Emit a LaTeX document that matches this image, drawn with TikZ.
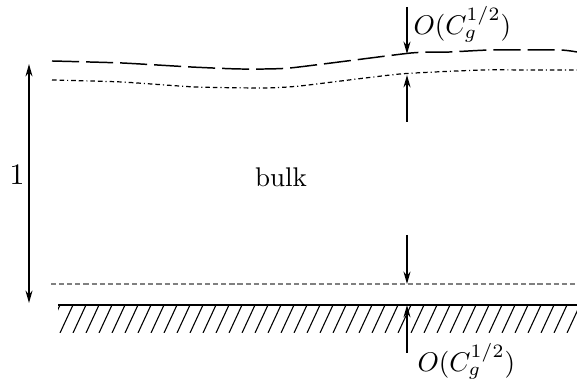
\documentclass[tikz,border=0pt]{standalone}
\usepackage{tikz}
\usetikzlibrary{arrows.meta,positioning,calc}

\begin{document}
\begin{tikzpicture}[
        x=0.37pt, y=-0.37pt,
        dim/.style={line width=0.6pt, -{Stealth[length=4.6pt,width=2.6pt]}},
        surface/.style={line width=0.55pt, dash pattern=on 10pt off 2.6pt},
        edge/.style={line width=0.45pt, dash pattern=on 1.7pt off 1.1pt on 1.7pt off 1.1pt on 0.4pt off 1.1pt},
        sublayer/.style={gray, line width=0.4pt, dash pattern=on 1.9pt off 1.1pt},
        wall/.style={line width=0.7pt},
        lbl/.style={inner sep=0pt}
    ]
    \useasboundingbox (0,0) rectangle (577,386);

    % Free surface and edge of the top layer
    \draw[surface] plot[smooth, tension=0.3] coordinates {(52,61) (122,63) (191,67) (240,69) (290,68) (411,53) (450,52) (490,50) (560,50) (577,52)};
    \draw[edge] plot[smooth, tension=0.3] coordinates {(52,80) (122,82) (195,87) (265,88) (300,86) (400,74) (482,70) (530,70) (577,70)};

    % Wall and bottom layer
    \draw[sublayer] (51,284) -- (577,284);
    \draw[wall] (58,305) -- (577,305);
    \begin{scope}
        \clip (58,305) rectangle (577,333);
        \foreach \x in {34,47,...,590}
            \draw[line width=0.4pt] (\x,333) -- ++(13,-28);
    \end{scope}

    % Labels
    \node[lbl, anchor=base, scale=1.1] (one) at (17,185) {$1$};
    \node[lbl, anchor=base] (bulk) at (281,187) {bulk};
    \node[lbl, anchor=base west] (toplbl) at (413,35) {$O(C_g^{1/2})$};
    \node[lbl, anchor=base west] (botlbl) at (417,372) {$O(C_g^{1/2})$};

    % Arrow ends
    \coordinate (hTop) at (29,64);
    \coordinate (hBot) at (29,303);
    \coordinate (a1) at (407,7);
    \coordinate (a1e) at (407,54);
    \coordinate (a2) at (407,122);
    \coordinate (a2e) at (407,75);
    \coordinate (b1) at (407,235);
    \coordinate (b1e) at (407,284);
    \coordinate (b2) at (407,353);
    \coordinate (b2e) at (407,305);

    % Dimensions
    \draw[dim, {Stealth[length=4.6pt,width=2.6pt]}-{Stealth[length=4.6pt,width=2.6pt]}] (hTop) -- (hBot);
    \draw[dim] (a1) -- (a1e);
    \draw[dim] (a2) -- (a2e);
    \draw[dim] (b1) -- (b1e);
    \draw[dim] (b2) -- (b2e);

\end{tikzpicture}
\end{document}
